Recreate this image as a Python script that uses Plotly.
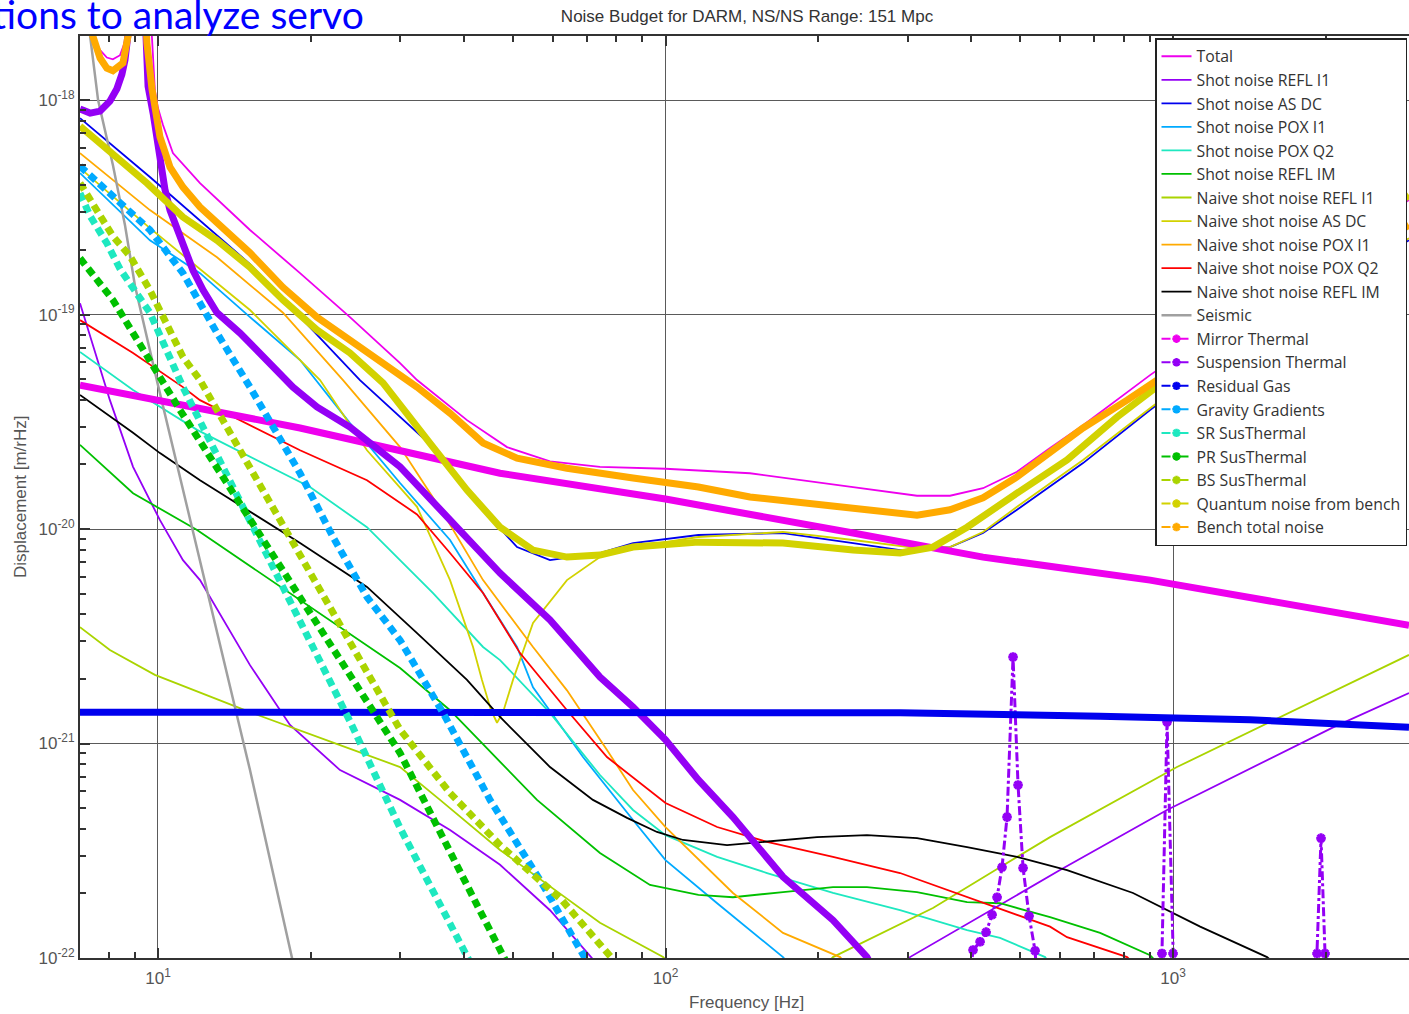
import math
import plotly.graph_objects as go

# ---------------- noise curves: frequency [Hz] / displacement [m/rtHz] ----------------
f_total = [7.21, 7.44, 7.69, 7.93, 8.15, 8.42, 8.69, 8.89, 9.21, 9.64, 9.86, 10.0, 10.23, 10.70, 12.10,
           15.18, 19.05, 23.89, 29.99, 32.39, 40.63, 48.72, 59.21, 74.28, 100, 146.7, 234.2, 313, 363.6,
           422.3, 492.7, 572.4, 664.8, 775.9, 901, 1418, 2917]
a_total = [2.92e-18, 1.99e-18, 1.71e-18, 1.58e-18, 1.55e-18, 1.62e-18, 1.99e-18, 2.92e-18, 1e-17, 2.92e-18,
           1.11e-18, 9.18e-19, 7.65e-19, 5.66e-19, 4.10e-19, 2.48e-19, 1.56e-19, 9.73e-20, 5.94e-20, 4.95e-20,
           3.22e-20, 2.41e-20, 2.07e-20, 1.95e-20, 1.91e-20, 1.82e-20, 1.57e-20, 1.43e-20, 1.43e-20, 1.55e-20,
           1.85e-20, 2.39e-20, 3.05e-20, 3.99e-20, 5.22e-20, 1.11e-19, 3.42e-19]

f_refl_i1 = [7.02, 8.04, 8.93, 10.09, 11.20, 12.10, 15.18, 18.20, 22.84, 29.99, 37.62, 47.20, 59.21, 71.6,
             93, 234, 264.7, 303.2, 598.9, 973, 2067, 2917]
a_refl_i1 = [1.13e-19, 3.99e-20, 1.95e-20, 1.10e-20, 7.16e-21, 5.78e-21, 2.32e-21, 1.22e-21, 7.52e-22,
             5.46e-22, 3.95e-22, 2.72e-22, 1.67e-22, 1.0e-22, 3e-23, 3e-23, 6e-23, 1.01e-22, 2.57e-22,
             4.90e-22, 1.19e-21, 1.72e-21]

f_as_dc = [7.02, 9.64, 15.18, 25.00, 34.83, 43.70, 50.99, 59.21, 74.28, 86.30, 116.1, 170.4, 234.2, 289.8,
           363.6, 422.3, 492.7, 664.8, 901, 1418, 2917]
a_as_dc = [8.24e-19, 4.38e-19, 1.72e-19, 4.95e-20, 2.41e-20, 1.23e-20, 8.24e-21, 7.16e-21, 7.73e-21, 8.60e-21,
           9.38e-21, 9.58e-21, 8.60e-21, 7.98e-21, 8.24e-21, 9.58e-21, 1.23e-20, 2.03e-20, 3.59e-20, 8.02e-20,
           2.22e-19]

f_pox_i1 = [7.02, 9.64, 12.10, 15.18, 19.05, 23.89, 29.99, 37.62, 43.70, 50.99, 54.82, 68.77, 86.30, 100,
            126.4, 170.4, 185]
a_pox_i1 = [4.57e-19, 2.22e-19, 1.56e-19, 9.73e-20, 6.14e-20, 3.12e-20, 1.64e-20, 8.89e-21, 5.03e-21,
            2.82e-21, 1.83e-21, 8.65e-22, 4.40e-22, 2.86e-22, 1.80e-22, 1.01e-22, 8e-23]

f_pox_q2 = [7.02, 8.93, 11.94, 19.93, 25.81, 34.83, 43.70, 47.20, 59.21, 74.28, 86.30, 100, 126.4, 158.5,
            213.8, 289.8, 392.8, 456.1, 559.6, 620]
a_pox_q2 = [6.69e-20, 4.45e-20, 2.90e-20, 1.57e-20, 1.02e-20, 5.03e-21, 2.82e-21, 2.45e-21, 1.39e-21,
            7.13e-22, 4.90e-22, 3.74e-22, 2.96e-22, 2.49e-22, 2.01e-22, 1.67e-22, 1.35e-22, 1.24e-22,
            1.01e-22, 7e-23]

f_refl_im = [7.02, 8.93, 11.94, 19.05, 29.99, 37.62, 55.82, 74.28, 93.2, 116.1, 135.8, 170.4, 213.8, 249.4,
             313, 392.8, 456.1, 572.4, 718.2, 901, 1000]
a_refl_im = [2.47e-20, 1.47e-20, 9.89e-21, 4.67e-21, 2.25e-21, 1.43e-21, 5.46e-22, 3.09e-22, 2.19e-22,
             1.97e-22, 1.92e-22, 2.03e-22, 2.14e-22, 2.14e-22, 2.03e-22, 1.82e-22, 1.80e-22, 1.55e-22,
             1.31e-22, 1.03e-22, 8e-23]

f_naive_refl_i1 = [7.02, 8.04, 9.86, 15.18, 22.84, 29.99, 35.95, 47.20, 74.28, 98.9, 116, 185, 213.8, 289.8,
                   336.5, 456.1, 572.4, 1018, 2233, 2917]
a_naive_refl_i1 = [3.49e-21, 2.73e-21, 2.09e-21, 1.40e-21, 9.84e-22, 7.77e-22, 5.46e-22, 3.19e-22, 1.46e-22,
                   1.01e-22, 7e-23, 7e-23, 1.01e-22, 1.43e-22, 1.71e-22, 2.65e-22, 3.66e-22, 7.77e-22,
                   1.91e-21, 2.59e-21]

f_naive_as_dc = [7.02, 9.64, 15.18, 20.86, 25.81, 32.39, 37.62, 41.76, 43.49, 45.31, 46.56, 47.85, 50.06,
                 54.82, 63.95, 74.28, 86.30, 116.1, 170.4, 234.2, 313, 363.6, 422.3, 492.7, 664.8, 901,
                 1418, 2917]
a_naive_as_dc = [4.82e-19, 2.53e-19, 1.05e-19, 4.95e-20, 2.33e-20, 1.27e-20, 5.78e-21, 2.82e-21, 1.98e-21,
                 1.43e-21, 1.25e-21, 1.40e-21, 1.98e-21, 3.65e-21, 5.78e-21, 7.40e-21, 8.24e-21, 9.18e-21,
                 9.69e-21, 8.89e-21, 8.15e-21, 8.24e-21, 9.69e-21, 1.27e-20, 2.10e-20, 3.66e-20, 8.20e-20,
                 2.27e-19]

f_naive_pox_i1 = [7.02, 9.64, 13.07, 17.63, 23.15, 29.99, 36.44, 43.70, 54.82, 63.95, 76.68, 86.30, 100,
                  135.8, 170.4, 220.8, 250]
a_naive_pox_i1 = [5.66e-19, 3.07e-19, 1.85e-19, 1.02e-19, 4.95e-20, 2.41e-20, 1.19e-20, 5.78e-21, 2.82e-21,
                  1.77e-21, 9.33e-22, 6.07e-22, 4.08e-22, 2.01e-22, 1.31e-22, 1.01e-22, 7e-23]

f_naive_pox_q2 = [7.02, 8.93, 11.20, 12.10, 19.05, 25.81, 32.39, 37.62, 43.70, 51.68, 63.95, 76.68, 100,
                  126.4, 158.5, 213.8, 289.8, 392.8, 572.4, 618.2, 812, 950]
a_naive_pox_q2 = [9.42e-20, 6.62e-20, 4.59e-20, 3.99e-20, 2.33e-20, 1.69e-20, 1.17e-20, 7.73e-21, 5.03e-21,
                  2.64e-21, 1.43e-21, 8.65e-22, 5.28e-22, 4.08e-22, 3.48e-22, 2.96e-22, 2.49e-22, 1.92e-22,
                  1.40e-22, 1.25e-22, 1.01e-22, 7e-23]

f_naive_refl_im = [7.02, 8.93, 10.09, 12.10, 19.05, 25.81, 32.39, 40.63, 47.20, 59.21, 71.95, 83.98, 96.2,
                   108.3, 132.2, 158.5, 198.8, 249.4, 313, 392.8, 492.7, 618.2, 834, 1131, 1532, 1780]
a_naive_refl_im = [4.22e-20, 2.81e-20, 2.26e-20, 1.69e-20, 8.60e-21, 5.37e-21, 3.27e-21, 1.98e-21, 1.33e-21,
                   7.77e-22, 5.46e-22, 4.50e-22, 3.87e-22, 3.55e-22, 3.36e-22, 3.48e-22, 3.66e-22, 3.74e-22,
                   3.62e-22, 3.29e-22, 2.96e-22, 2.57e-22, 2.01e-22, 1.40e-22, 1.01e-22, 7.5e-23]

f_seismic = [7.15, 7.35, 7.62, 8.15, 8.61, 9.01, 10.0, 12.10, 15.18, 18.37, 19.05]
a_seismic = [2.92e-18, 1.99e-18, 1e-18, 4.98e-19, 2.61e-19, 1.36e-19, 4.69e-20, 7.16e-21, 7.52e-22, 1e-22,
             6.4e-23]

f_mirror = [7.02, 19.05, 47.20, 100, 234.2, 422.3, 901, 2917]
a_mirror = [4.69e-20, 2.96e-20, 1.82e-20, 1.38e-20, 9.58e-21, 7.40e-21, 5.78e-21, 3.56e-21]

f_susp = [7.02, 7.35, 7.69, 8.04, 8.30, 8.49, 8.61, 8.73, 8.89, 9.21, 9.51, 9.56, 9.78, 9.91, 10.09, 10.32,
          10.56, 10.95, 11.20, 11.72, 12.27, 13.07, 14.51, 16.40, 18.45, 20.57, 23.89, 29.99, 37.62, 47.20,
          59.21, 74.28, 86.30, 100, 116.1, 135.8, 170.4, 213.8, 249.4, 290]
a_susp = [9.08e-19, 8.70e-19, 8.89e-19, 9.89e-19, 1.13e-18, 1.32e-18, 1.54e-18, 1.99e-18, 2.92e-18, 1e-17,
          1.66e-18, 1.16e-18, 8.70e-19, 7.02e-19, 5.08e-19, 3.84e-19, 3.07e-19, 2.48e-19, 2.15e-19, 1.61e-19,
          1.30e-19, 1.02e-19, 8.20e-20, 6.14e-20, 4.59e-20, 3.71e-20, 2.99e-20, 1.95e-20, 1.10e-20, 6.23e-21,
          3.77e-21, 2.04e-21, 1.48e-21, 1.04e-21, 6.76e-22, 4.54e-22, 2.39e-22, 1.50e-22, 1.01e-22, 5e-23]

# violin modes of the suspension thermal noise
f_violin = [389, 403.6, 416.7, 428.2, 440.0, 450.1, 460.3, 470.9, 483.9, 495.0, 506.4, 520.4, 534.8, 547,
            943, 951, 973.2, 1000, 1009, 1900, 1922, 1957, 1993, 2010]
a_violin = [5e-23, 1.09e-22, 1.19e-22, 1.32e-22, 1.59e-22, 1.92e-22, 2.65e-22, 4.54e-22, 2.53e-21, 6.41e-22,
            2.63e-22, 1.57e-22, 1.08e-22, 5e-23, 5e-23, 1.05e-22, 1.26e-21, 1.05e-22, 5e-23, 5e-23, 1.05e-22,
            3.62e-22, 1.05e-22, 5e-23]

f_gas = [7.02, 116.1, 289.8, 718.2, 1418, 2917]
a_gas = [1.40e-21, 1.40e-21, 1.39e-21, 1.34e-21, 1.29e-21, 1.19e-21]

f_gg = [7.02, 9.64, 11.20, 13.07, 15.18, 19.05, 22.12, 25.81, 29.99, 36.44, 45.10, 56.58, 69.4, 80]
a_gg = [4.92e-19, 2.48e-19, 1.56e-19, 8.20e-20, 4.59e-20, 1.82e-20, 9.18e-21, 4.82e-21, 3.03e-21, 1.39e-21,
        5.46e-22, 2.31e-22, 1.0e-22, 5e-23]

f_sr = [7.02, 7.35, 7.93, 8.42, 9.64, 10.41, 11.20, 15.18, 19.05, 23.89, 29.99, 35.95, 40.8, 45]
a_sr = [3.68e-19, 2.88e-19, 2.15e-19, 1.63e-19, 1.02e-19, 6.62e-20, 4.59e-20, 1.09e-20, 3.73e-21, 1.27e-21,
        4.04e-22, 1.80e-22, 1e-22, 6e-23]

f_pr = [7.02, 8.15, 8.93, 9.95, 11.05, 15.18, 19.05, 23.89, 29.99, 42.71, 47.85, 52]
a_pr = [1.83e-19, 1.17e-19, 8.20e-20, 5.33e-20, 3.59e-20, 1.11e-20, 4.82e-21, 2.09e-21, 9.03e-22, 1.73e-22,
        1.03e-22, 7e-23]

f_bs = [7.02, 7.58, 8.15, 8.81, 9.64, 11.20, 12.10, 13.07, 19.05, 23.89, 29.99, 37.62, 47.20, 62.5, 78.4, 85]
a_bs = [4.10e-19, 3.10e-19, 2.32e-19, 1.87e-19, 1.30e-19, 6.34e-20, 4.95e-20, 3.59e-20, 7.56e-21, 2.94e-21,
        1.16e-21, 5.88e-22, 3.36e-22, 1.86e-22, 1.01e-22, 8e-23]

f_quantum = [7.02, 8.15, 9.51, 11.20, 13.07, 15.18, 17.63, 20.57, 23.89, 27.75, 32.39, 34.83, 40.63, 47.20,
             54.82, 63.95, 74.28, 86.30, 116.1, 170.4, 234.2, 289.8, 336.5, 392.8, 492.7, 618.2, 775.9, 1418,
             2917]
a_quantum = [7.56e-19, 5.66e-19, 4.10e-19, 2.85e-19, 2.22e-19, 1.66e-19, 1.17e-19, 8.48e-20, 6.62e-20,
             4.80e-20, 3.05e-20, 2.41e-20, 1.52e-20, 1.02e-20, 7.98e-21, 7.40e-21, 7.56e-21, 8.24e-21,
             8.69e-21, 8.60e-21, 7.98e-21, 7.73e-21, 8.24e-21, 1.02e-20, 1.47e-20, 2.10e-20, 3.33e-20,
             9.84e-20, 3.61e-19]

f_bench = [7.21, 7.44, 7.69, 7.93, 8.15, 8.53, 8.73, 8.89, 9.21, 9.51, 9.73, 9.95, 10.09, 10.56, 11.20, 12.10,
           13.07, 15.18, 17.63, 20.57, 23.89, 27.75, 32.39, 37.62, 43.70, 50.99, 63.95, 86.30, 116.1, 146.7,
           234.2, 313, 363.6, 422.3, 492.7, 572.4, 664.8, 812, 1418, 2917]
a_bench = [2.92e-18, 1.99e-18, 1.57e-18, 1.41e-18, 1.37e-18, 1.49e-18, 1.99e-18, 2.92e-18, 1e-17, 1.85e-18,
           1.13e-18, 8.42e-19, 6.73e-19, 4.87e-19, 3.93e-19, 3.17e-19, 2.67e-19, 1.94e-19, 1.34e-19, 9.73e-20,
           7.60e-20, 5.94e-20, 4.59e-20, 3.47e-20, 2.52e-20, 2.14e-20, 1.92e-20, 1.73e-20, 1.57e-20, 1.41e-20,
           1.25e-20, 1.16e-20, 1.23e-20, 1.40e-20, 1.75e-20, 2.26e-20, 2.96e-20, 3.99e-20, 9.64e-20, 2.61e-19]

# axis ticks
x_major = [10, 100, 1000]
x_major_text = ["10<sup>1</sup>", "10<sup>2</sup>", "10<sup>3</sup>"]
x_minor = [7, 8, 9, 20, 30, 40, 50, 60, 70, 80, 90, 200, 300, 400, 500, 600, 700, 800, 900, 2000]
y_major = [1e-22, 1e-21, 1e-20, 1e-19, 1e-18]
y_major_text = ["10<sup>-22</sup>", "10<sup>-21</sup>", "10<sup>-20</sup>", "10<sup>-19</sup>",
                "10<sup>-18</sup>"]
y_minor = [m * 10.0 ** e for e in (-22, -21, -20, -19, -18) for m in range(2, 10)]

# ---------------- colours ----------------
MAGENTA = "#ee00ee"
PURPLE = "#9400f5"
BLUE = "#0000ee"
LBLUE = "#00aaff"
AQUA = "#1ee8c0"
GREEN = "#00c000"
YGREEN = "#aad400"
YELLOW = "#d2d200"
ORANGE = "#ffaa00"
RED = "#ff0000"
BLACK = "#000000"
GRAY = "#a0a0a0"

SANS = "Liberation Sans, Arial, sans-serif"

fig = go.Figure()


def add_line(f, a, name, color, width=1.8):
    fig.add_trace(go.Scatter(x=f, y=a, name=name, mode="lines",
                             line=dict(color=color, width=width), hoverinfo="skip"))


def add_starred(f, a, color, beaded=False):
    # dense '*' markers merge into a thick band; sparse ones look like a beaded line
    style = dict(color=color, width=7)
    if beaded:
        style["dash"] = "8px,5px"
    fig.add_trace(go.Scatter(x=f, y=a, mode="lines", line=style, showlegend=False, hoverinfo="skip"))


def add_starred_key(name, color):
    fig.add_trace(go.Scatter(x=[None], y=[None], name=name, mode="lines+markers",
                             line=dict(color=color, width=2, dash="dashdot"),
                             marker=dict(symbol="asterisk-open", size=7,
                                         line=dict(color=color, width=2.5))))


add_line(f_total, a_total, "Total", MAGENTA)
add_line(f_refl_i1, a_refl_i1, "Shot noise REFL I1", PURPLE)
add_line(f_as_dc, a_as_dc, "Shot noise AS DC", BLUE)
add_line(f_pox_i1, a_pox_i1, "Shot noise POX I1", LBLUE)
add_line(f_pox_q2, a_pox_q2, "Shot noise POX Q2", AQUA)
add_line(f_refl_im, a_refl_im, "Shot noise REFL IM", GREEN)
add_line(f_naive_refl_i1, a_naive_refl_i1, "Naive shot noise REFL I1", YGREEN)
add_line(f_naive_as_dc, a_naive_as_dc, "Naive shot noise AS DC", YELLOW)
add_line(f_naive_pox_i1, a_naive_pox_i1, "Naive shot noise POX I1", ORANGE)
add_line(f_naive_pox_q2, a_naive_pox_q2, "Naive shot noise POX Q2", RED)
add_line(f_naive_refl_im, a_naive_refl_im, "Naive shot noise REFL IM", BLACK)
add_line(f_seismic, a_seismic, "Seismic", GRAY, width=2.5)

add_starred(f_mirror, a_mirror, MAGENTA)
add_starred_key("Mirror Thermal", MAGENTA)

add_starred(f_susp, a_susp, PURPLE)
fig.add_trace(go.Scatter(x=f_violin, y=a_violin, mode="lines+markers", showlegend=False, hoverinfo="skip",
                         line=dict(color=PURPLE, width=3, dash="dashdot"),
                         marker=dict(symbol="asterisk-open", size=8, line=dict(color=PURPLE, width=3))))
add_starred_key("Suspension Thermal", PURPLE)

add_starred(f_gas, a_gas, BLUE)
add_starred_key("Residual Gas", BLUE)
add_starred(f_gg, a_gg, LBLUE, beaded=True)
add_starred_key("Gravity Gradients", LBLUE)
add_starred(f_sr, a_sr, AQUA, beaded=True)
add_starred_key("SR SusThermal", AQUA)
add_starred(f_pr, a_pr, GREEN, beaded=True)
add_starred_key("PR SusThermal", GREEN)
add_starred(f_bs, a_bs, YGREEN, beaded=True)
add_starred_key("BS SusThermal", YGREEN)
add_starred(f_quantum, a_quantum, YELLOW)
add_starred_key("Quantum noise from bench", YELLOW)
add_starred(f_bench, a_bench, ORANGE)
add_starred_key("Bench total noise", ORANGE)

W, H = 1409, 1014
L, R, T, B = 80, 0, 36, 56
PW, PH = W - L - R, H - T - B

axis_font = dict(family=SANS, size=17, color="#555555")

fig.update_layout(
    width=W, height=H, autosize=False,
    margin=dict(l=L, r=R, t=T, b=B, pad=0),
    paper_bgcolor="white", plot_bgcolor="white",
    font=dict(family=SANS, size=15, color="#333333"),
    title=dict(text="Noise Budget for DARM, NS/NS Range: 151 Mpc", x=(747 - L) / PW, xref="paper",
               xanchor="center", y=1 - 16 / H, yref="container", yanchor="middle",
               font=dict(family=SANS, size=17, color="#333333")),
    legend=dict(x=(1155 - L) / PW, y=1 - 2 / PH, xanchor="left", yanchor="top", bgcolor="white",
                bordercolor="#222222", borderwidth=1.5, tracegroupgap=0,
                font=dict(family="Open Sans, Liberation Sans, sans-serif", size=15.8, color="#333333")),
    showlegend=True,
)

fig.update_xaxes(
    type="log", range=[math.log10(7.02), math.log10(2917)],
    tickmode="array", tickvals=x_major, ticktext=x_major_text, tickfont=axis_font, ticklabelstandoff=4,
    ticks="inside", ticklen=10, tickwidth=1.5, tickcolor="#333333",
    showgrid=True, gridcolor="#5a5a5a", gridwidth=1,
    showline=True, linecolor="#333333", linewidth=2, mirror="allticks", zeroline=False,
    minor=dict(tickmode="array", tickvals=x_minor, ticks="inside", ticklen=6, tickwidth=1.5,
               tickcolor="#333333", showgrid=False),
)
fig.update_yaxes(
    type="log", range=[-22, math.log10(1.99e-18)],
    tickmode="array", tickvals=y_major, ticktext=y_major_text, tickfont=axis_font,
    ticks="inside", ticklen=10, tickwidth=1.5, tickcolor="#333333",
    showgrid=True, gridcolor="#5a5a5a", gridwidth=1,
    showline=True, linecolor="#333333", linewidth=2, mirror=False, zeroline=False,
    minor=dict(tickmode="array", tickvals=y_minor, ticks="inside", ticklen=6, tickwidth=1.5,
               tickcolor="#333333", showgrid=False),
)

fig.add_annotation(text="Frequency [Hz]", xref="paper", yref="paper", x=(746 - L) / PW, y=-(1002 - 958) / PH,
                   showarrow=False, xanchor="center", yanchor="middle", font=axis_font)
fig.add_annotation(text="Displacement [m/rHz]", xref="paper", yref="paper", x=(20 - L) / PW, y=0.5,
                   showarrow=False, textangle=-90, xanchor="center", yanchor="middle", font=axis_font)
fig.add_annotation(text="tions to analyze servo", xref="paper", yref="paper", x=(-10 - L) / PW,
                   y=(958 - 14) / PH, showarrow=False, xanchor="left", yanchor="middle",
                   font=dict(family="Lato, Open Sans, sans-serif", size=39, color="#0000ff"))

fig.write_html("out.html")
